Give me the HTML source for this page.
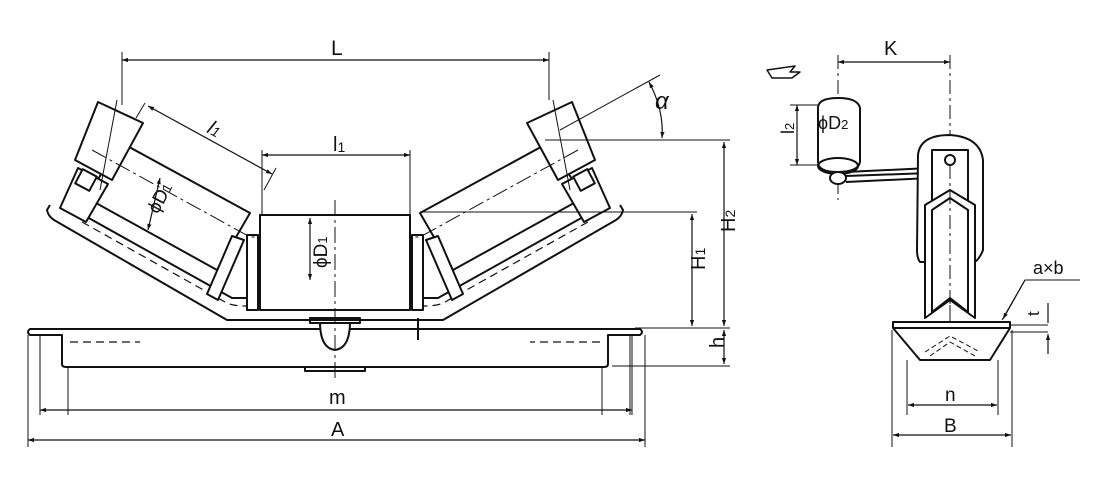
<!DOCTYPE html>
<html><head><meta charset="utf-8"><style>
html,body{margin:0;padding:0;background:#fff}
svg{display:block}
text{font-family:"Liberation Sans",sans-serif;fill:#111}
</style></head><body>
<svg width="1120" height="503" viewBox="0 0 1120 503" xmlns="http://www.w3.org/2000/svg">
<defs>
<marker id="ar" viewBox="0 0 10 10" refX="10" refY="5" markerWidth="10" markerHeight="6" orient="auto-start-reverse" markerUnits="userSpaceOnUse"><path d="M0,1.5 L10,5 L0,8.5 z" fill="#111"/></marker>
</defs>
<g fill="none" stroke="#111" stroke-width="2" stroke-linejoin="round">
<g id="half">
  <path d="M50,205 L47,210 Q48,216 54,220 L227,320 L335,320"/>
  <path d="M78,212 L232,298 L335,298" />
  <path d="M82,222 L225,302 Q232,306 245,306 L335,306" stroke-width="1.2" stroke-dasharray="8,5"/>
  <path d="M120,142 L250,213 L217,270 L87,198 Z" fill="#fff"/>
  <path d="M98,102 L143,123 L112,180 L75,160 Z" fill="#fff"/>
  <path d="M78,168 L108,184 L86,222 L60,208 Z" fill="#fff"/>
  <rect x="78" y="172" width="16" height="16" transform="rotate(28 86 180)" fill="#fff"/>
  <path d="M232,236 L244,240 L218,300 L207,294 Z" fill="#fff"/>
  <rect x="247" y="235" width="11" height="75" fill="#fff"/>
  <path d="M92,150 L250,237 L335,237" stroke-width="1" stroke-dasharray="16,4,3,4"/>
  <path d="M117,100 L100,190" stroke-width="1"/>
  <path d="M335,329 L30,329 Q26,332 30,335 L62,335 L62,364 Q62,367 66,367 L335,367"/>
  <path d="M70,342 L140,342" stroke-width="1.2" stroke-dasharray="8,5"/>
  <path d="M305,367 L305,371 L335,371"/>
  <path d="M40,335 L40,415 M68,367 L68,415" stroke-width="1"/>
</g>
<use href="#half" transform="translate(670,0) scale(-1,1)"/>
<rect x="260" y="215" width="150" height="95" fill="#fff"/>
<path d="M320,322 Q320,348 335,350 Q350,348 350,322" fill="#fff"/>
<rect x="310" y="318" width="50" height="5"/>
<path d="M335,200 L335,380" stroke-width="1" stroke-dasharray="16,4,3,4"/>
<path d="M418,318 L418,340" />
<g stroke-width="1">
<path d="M122,52 L122,105 M549,52 L549,100"/>
<path d="M262,150 L262,215 M410,150 L410,215"/>
<path d="M545,140 L730,140 M420,212 L697,212 M635,328 L730,328 M612,366 L730,366"/>
<path d="M560,130 L660,75"/>
<path d="M145,103 L136,118 M276,168 L264,190"/>
<path d="M28,335 L28,447 M645,335 L645,447 M632,335 L632,415"/>
</g>
<g stroke-width="1.2" marker-start="url(#ar)" marker-end="url(#ar)">
<path d="M122,60 L549,60"/>
<path d="M262,155 L410,155"/>
<path d="M148,106 L272,174"/>
<path d="M692,214 L692,326"/>
<path d="M724,142 L724,326"/>
<path d="M724,330 L724,364"/>
<path d="M40,410 L632,410"/>
<path d="M28,440 L645,440"/>
<path d="M160,178 L148,230"/>
<path d="M310,218 L310,280"/>
</g>
<path d="M649,82 Q664,110 662,138" stroke-width="1.2" marker-start="url(#ar)" marker-end="url(#ar)"/>
<g stroke-width="1">
<path d="M838,55 L838,200 M950,55 L950,330" stroke-dasharray="14,4,3,4"/>
<path d="M790,105 L820,105 M790,165 L820,165"/>
<path d="M892,330 L892,447 M1012,330 L1012,447 M907,360 L907,415 M998,360 L998,415"/>
<path d="M1010,325 L1048,325 M1010,332 L1048,332"/>
<path d="M1002,320 L1025,280 L1080,280"/>
</g>
<g stroke-width="1.2" marker-start="url(#ar)" marker-end="url(#ar)">
<path d="M838,62 L950,62"/>
<path d="M797,105 L797,165"/>
<path d="M893,435 L1011,435"/>
<path d="M908,405 L997,405"/>
</g>
<path d="M1048,303 L1048,323 M1048,354 L1048,334" stroke-width="1.2" marker-end="url(#ar)"/>
<path d="M1025,280 L1003,319" stroke-width="1.2" marker-end="url(#ar)"/>
<path d="M767,70 L772,78 L792,78 L800,72 L790,72 L795,66 Z" stroke-width="1.5"/>
<path d="M818,108 Q818,98 838,98 Q858,98 860,108 L860,162 Q858,172 838,172 Q818,172 818,162 Z" fill="#fff"/>
<ellipse cx="838" cy="166" rx="20" ry="8"/>
<ellipse cx="838" cy="178" rx="8" ry="6" fill="#fff"/>
<path d="M846,172 L930,168 M846,182 L930,178 M846,176 L930,173"/>
<path d="M918,155 Q920,135 950,135 Q980,137 983,160 L983,250 Q980,258 975,262 L920,262 Q917,258 917,250 Z" fill="#fff"/>
<rect x="932" y="150" width="36" height="60" fill="#fff"/>
<circle cx="950" cy="160" r="5"/>
<path d="M925,205 L950,190 L975,205 L975,318 L950,300 L925,318 Z" fill="#fff"/>
<path d="M932,210 L950,198 L968,210 L968,312 L950,298 L932,312 Z"/>
<path d="M950,165 L950,330" stroke-width="1" stroke-dasharray="14,4,3,4"/>
<path d="M893,322 L1010,322 L1010,328 L893,328 Z" fill="#fff"/>
<path d="M893,328 L920,360 L990,360 L1010,328"/>
<path d="M925,352 L950,336 L980,352 M930,356 L950,342 L975,356" stroke-width="1" stroke-dasharray="5,3"/>
</g>
<text x="331" y="55" font-size="21">L</text>
<text x="333" y="151" font-size="20">l<tspan font-size="14" dy="1">1</tspan></text>
<text x="208" y="136" font-size="20" font-style="italic" transform="rotate(28 215 130)">l<tspan font-size="14">1</tspan></text>
<text x="146" y="205" font-size="19" transform="rotate(-62 160 200)">ϕD<tspan font-size="13">1</tspan></text>
<text x="288" y="283" font-size="19" transform="rotate(-90 300 256)">ϕD<tspan font-size="13">1</tspan></text>
<text x="655" y="109" font-size="24" font-style="italic">α</text>
<text x="686" y="289" font-size="20" transform="rotate(-90 686 270)">H<tspan font-size="14">1</tspan></text>
<text x="716" y="251" font-size="20" transform="rotate(-90 716 232)">H<tspan font-size="14">2</tspan></text>
<text x="716" y="356" font-size="20" transform="rotate(-90 716 348)">h</text>
<text x="329" y="404" font-size="20">m</text>
<text x="331" y="436" font-size="20">A</text>
<text x="884" y="55" font-size="20">K</text>
<text x="818" y="129" font-size="18">ϕD<tspan font-size="13">2</tspan></text>
<text x="786" y="142" font-size="18" transform="rotate(-90 786 134)">l<tspan font-size="13">2</tspan></text>
<text x="1033" y="274" font-size="18">a×b</text>
<text x="1030" y="317" font-size="17" transform="rotate(-90 1034 312)">t</text>
<text x="945" y="401" font-size="19">n</text>
<text x="944" y="432" font-size="19">B</text>
</svg>
</body></html>
